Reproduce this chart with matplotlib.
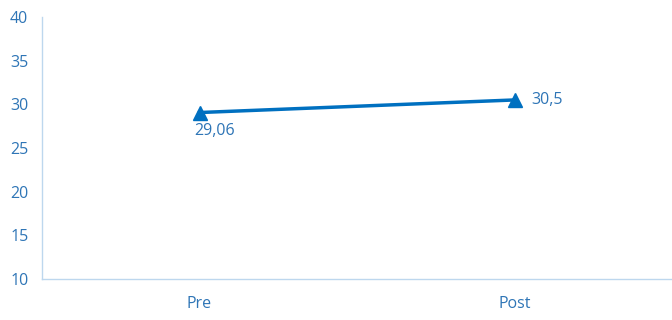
import matplotlib
matplotlib.use("Agg")
import matplotlib.pyplot as plt

categories = ["Pre", "Post"]
values = [29.06, 30.5]
value_labels = ["29,06", "30,5"]
y_ticks = [10, 15, 20, 25, 30, 35, 40]

text_color = "#2E75B6"
line_color = "#0070C0"
axis_color = "#BDD7EE"

plt.rcParams["font.family"] = ["Open Sans", "DejaVu Sans"]

fig = plt.figure(figsize=(6.72, 3.2), dpi=100)
ax = fig.add_axes([0.0625, 0.128, 0.9375, 0.819])

x = list(range(len(categories)))
ax.plot(x, values, color=line_color, linewidth=2.5, marker="^",
        markersize=10, markerfacecolor=line_color, markeredgecolor=line_color)

ax.annotate(value_labels[0], (x[0], values[0]), xytext=(-4, -13),
            textcoords="offset points", color=text_color, fontsize=11.5,
            ha="left", va="center")
ax.annotate(value_labels[1], (x[1], values[1]), xytext=(12, 0),
            textcoords="offset points", color=text_color, fontsize=11.5,
            ha="left", va="center")

ax.set_xlim(-0.5, 1.5)
ax.set_ylim(10, 40)
ax.set_xticks(x)
ax.set_xticklabels(categories)
ax.set_yticks(y_ticks)

for side in ("top", "right"):
    ax.spines[side].set_visible(False)
for side in ("left", "bottom"):
    ax.spines[side].set_color(axis_color)
    ax.spines[side].set_linewidth(1)

ax.tick_params(axis="both", length=0, colors=text_color, labelsize=11.5)
ax.tick_params(axis="x", pad=12)
for lbl in ax.get_yticklabels():
    lbl.set_horizontalalignment("left")
ax.yaxis.set_tick_params(pad=23)

fig.savefig("out.png", dpi=100)
